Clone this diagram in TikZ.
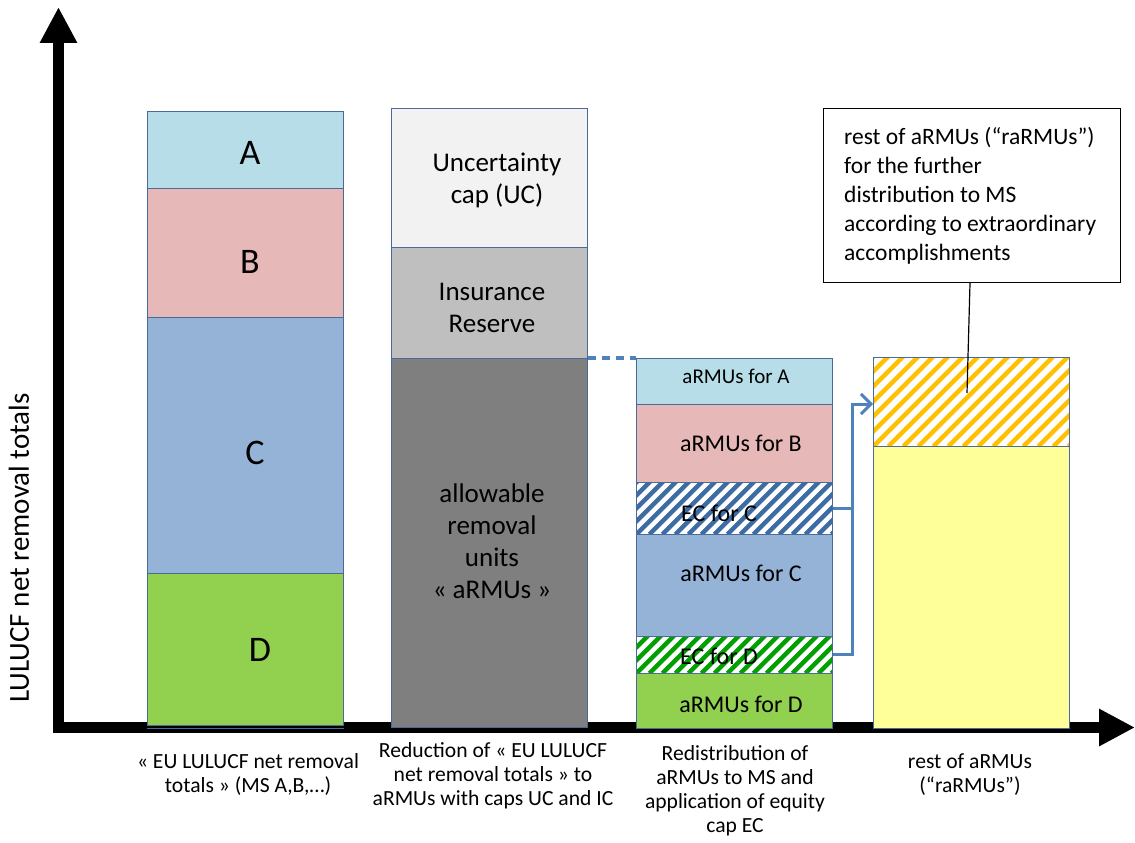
\documentclass[tikz,border=0pt]{standalone}
\usepackage{fontspec}
\setmainfont{Carlito}
\usetikzlibrary{arrows.meta,calc}
\definecolor{edge}{HTML}{4A6A9A}
\definecolor{cA}{HTML}{B7DEE8}
\definecolor{cB}{HTML}{E6B9B8}
\definecolor{cC}{HTML}{95B3D7}
\definecolor{cD}{HTML}{92D050}
\definecolor{cUC}{HTML}{F2F2F2}
\definecolor{cIR}{HTML}{BFBFBF}
\definecolor{cAR}{HTML}{7F7F7F}
\definecolor{cY}{HTML}{FFFF99}
\definecolor{cOr}{HTML}{FFC000}
\definecolor{cHB}{HTML}{3D6BA3}
\definecolor{cHG}{HTML}{00A000}
\definecolor{conn}{HTML}{4F81BD}
\tikzset{
  seg/.style={draw=edge, line width=0.8pt, minimum width=196pt, inner sep=0pt, anchor=north west, fill=#1},
  hatch/.style n args={3}{path picture={
      \foreach \k in {-20,...,20}{
        \draw[#1, line width=#3] ($(path picture bounding box.south west)+(\k*#2,0pt)$) -- ++(400pt,400pt);
      }}},
  bigl/.style={font=\fontsize{36}{40}\selectfont},
  midl/.style={font=\fontsize{27}{32}\selectfont, align=center},
  smll/.style={font=\fontsize{24}{28}\selectfont},
  botl/.style={font=\fontsize{21.6}{24}\selectfont, align=center, anchor=north},
  axis/.style={line width=11pt, -{Triangle[width=35pt,length=36pt]}},
  connline/.style={draw=conn, line width=3pt},
}
\begin{document}
\begin{tikzpicture}[x=1pt,y=-1pt]
\useasboundingbox (0,0) rectangle (1135,843);
% axes
\coordinate (xo) at (53,727.5);
\coordinate (xe) at (1135,727.5);
\coordinate (yo) at (58.5,733);
\coordinate (ye) at (58.5,7);
\draw[axis] (xo) -- (xe);
\draw[axis] (yo) -- (ye);
\node[rotate=90, font=\fontsize{29}{32}\selectfont] (ylab) at (19,548) {LULUCF net removal totals};

% bar 1
\node[seg=cA, minimum height=77pt] (A) at (147,111) {};
\node[seg=cB, minimum height=129pt] (B) at (147,188) {};
\node[seg=cC, minimum height=256pt] (C) at (147,317) {};
\node[seg=cD, minimum height=152pt] (D) at (147,573) {};
\draw[edge, line width=1pt] (D.south west) ++(0pt,-3pt) coordinate (dl) -- (dl -| D.south east);
\node[bigl] (tA) at (250,153) {A};
\node[bigl] (tB) at (250,262) {B};
\node[bigl] (tC) at (255,453) {C};
\node[bigl] (tD) at (260,650) {D};

% bar 2
\node[seg=cUC, minimum height=139pt] (UC) at (391,108) {};
\node[seg=cIR, minimum height=111pt] (IR) at (391,247) {};
\node[seg=cAR, minimum height=369pt] (AR) at (391,358) {};
\node[midl] (tUC) at (497,180) {Uncertainty\\cap (UC)};
\node[midl] (tIR) at (492,308) {Insurance\\Reserve};
\node[midl] (tAR) at (492,541) {allowable\\removal\\units\\« aRMUs »};

% bar 3
\node[seg=cA, minimum height=46pt] (A3) at (636,358) {};
\node[seg=cB, minimum height=78pt] (B3) at (636,404) {};
\node[seg=white, minimum height=52pt, hatch={cHB}{13pt}{4.5pt}] (ECC) at (636,482) {};
\node[seg=cC, minimum height=102pt] (C3) at (636,534) {};
\node[seg=white, minimum height=37pt, hatch={cHG}{13pt}{4.5pt}] (ECD) at (636,636) {};
\node[seg=cD, minimum height=55pt] (D3) at (636,673) {};
\node[font=\fontsize{21}{24}\selectfont] (tA3) at (736,376) {aRMUs for A};
\node[smll] (tB3) at (741,443) {aRMUs for B};
\node[smll] (tECC) at (719,513) {EC for C};
\node[smll] (tC3) at (741,573) {aRMUs for C};
\node[smll] (tECD) at (719,656) {EC for D};
\node[smll] (tD3) at (741,704) {aRMUs for D};

% bar 4
\node[seg=white, minimum height=89pt, hatch={cOr}{15pt}{4.5pt}] (OR) at (873,357) {};
\node[seg=cY, minimum height=282pt] (Y4) at (873,446) {};

% dotted link
\draw[draw=conn, line width=4pt, dash pattern=on 8pt off 6pt] (AR.north east) -- (A3.north west);

% bracket arrow
\coordinate (bk) at (852,404);
\draw[connline] (ECC.east) -- (ECC.east -| bk);
\draw[connline, -{Straight Barb[length=10pt,width=20pt,line width=3pt]}] (ECD.east) -| (bk) -- (bk -| OR.west);

% callout
\node[draw=black, line width=1.2pt, fill=white, minimum width=297pt, minimum height=174pt, anchor=north west] (call) at (823,108) {};
\node[anchor=west, align=left, inner sep=0pt, font=\fontsize{23.5}{29}\selectfont] (ctext) at ($(call.west)+(21pt,0pt)$)
 {rest of aRMUs (“raRMUs”)\\for the further\\distribution to MS\\according to extraordinary\\accomplishments};
\coordinate (cp) at (967,393);
\draw[line width=1.2pt] (call.south -| 970,0) -- (cp);

% bottom labels
\node[botl] (l1) at (248,750) {« EU LULUCF net removal\\totals » (MS A,B,…)};
\node[botl] (l2) at (493,739) {Reduction of « EU LULUCF\\net removal totals » to\\aRMUs with caps UC and IC};
\node[botl] (l3) at (735,742) {Redistribution of\\aRMUs to MS and\\application of equity\\cap EC};
\node[botl] (l4) at (970,750) {rest of aRMUs\\(“raRMUs”)};
\end{tikzpicture}
\end{document}
